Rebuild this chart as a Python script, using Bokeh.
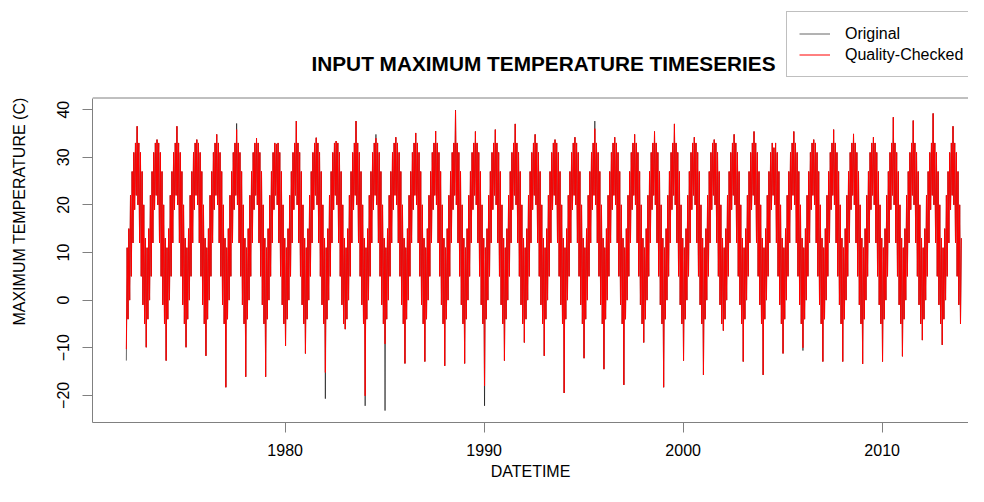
from bokeh.plotting import figure
from bokeh.models import Range1d, FixedTicker, LinearAxis, Legend, LegendItem, Label, Span
from bokeh.embed import file_html
from bokeh.resources import INLINE

# ---- data ----
years = list(range(1972, 2014))

# summer (July) highest daily maximum of each year, quality-checked series
qc_summer_peak = [36.5, 33.7, 36.5, 33.7, 34.8, 35.8, 34.0, 32.8, 37.6, 34.1,
                  33.4, 37.6, 34.0, 34.2, 35.1, 35.5, 39.8, 35.4, 35.8, 37.0,
                  34.8, 33.7, 34.2, 36.0, 34.2, 34.8, 35.4, 37.0, 34.2, 33.7,
                  34.8, 35.4, 32.0, 35.4, 33.7, 35.8, 34.9, 34.2, 38.4, 37.7,
                  39.2, 36.5]
# winter (January) lowest daily maximum of each year, quality-checked series
qc_winter_low = [-10.3, -9.9, -12.7, -9.9, -11.7, -18.3, -16.1, -16.1, -9.6, -11.2,
                 -15.2, -6.1, -20.1, -9.2, -13.3, -12.9, -13.8, -13.3, -18.0, -12.7,
                 -8.9, -11.7, -19.5, -12.2, -14.5, -17.8, -8.9, -18.3, -12.7, -15.7,
                 -6.4, -12.9, -15.7, -11.2, -10.0, -12.9, -12.9, -13.4, -12.9, -11.8,
                 -8.4, -9.4]
# original (unchecked) series: same, except the values removed by the checks
orig_summer_peak = [36.5, 33.7, 36.5, 33.7, 34.8, 37.1, 34.0, 32.8, 37.6, 34.1,
                    33.4, 37.6, 34.8, 34.2, 35.1, 35.5, 39.9, 35.4, 35.8, 37.0,
                    34.8, 33.7, 34.2, 37.6, 34.2, 34.8, 35.4, 37.0, 34.2, 33.7,
                    34.8, 35.4, 32.0, 35.4, 33.7, 35.8, 34.9, 34.2, 38.4, 37.7,
                    39.2, 36.5]
orig_winter_low = [-12.7, -9.9, -12.7, -9.9, -11.7, -18.3, -16.1, -16.1, -9.6, -11.2,
                   -20.7, -6.1, -22.2, -23.2, -13.3, -12.9, -13.8, -13.3, -22.2, -12.7,
                   -8.9, -11.7, -19.5, -12.2, -14.5, -17.8, -8.9, -18.3, -12.7, -15.7,
                   -6.4, -12.9, -15.7, -11.2, -10.6, -12.9, -12.9, -13.4, -12.9, -11.8,
                   -8.4, -9.4]
# typical monthly band of daily maxima (Jan..Dec): lower and upper edge
month_band_low = [-7, -4, 0, 5, 12, 19, 22, 20, 12, 5, -1, -5]
month_band_high = [11, 15, 22, 27, 31, 33, 34, 33, 31, 27, 20, 13]

y_ticks = [-20, -10, 0, 10, 20, 30, 40]
x_ticks = [1980, 1990, 2000, 2010]

# axis limits (R style: data range plus 4 %)
Y_LO, Y_HI = -25.70, 42.44
X_LO = 1970.32


def build(peaks, lows):
    t, v = [], []
    for i, yr in enumerate(years):
        for m in range(12):
            lo = lows[i] if m == 0 else month_band_low[m]
            hi = peaks[i] if m == 6 else month_band_high[m]
            t += [yr + (m + 0.25) / 12.0, yr + (m + 0.75) / 12.0]
            v += [lo, hi]
    return t, v


t_orig, v_orig = build(orig_summer_peak, orig_winter_low)
t_qc, v_qc = build(qc_summer_peak, qc_winter_low)

FONT = "Liberation Sans"
GRAY = "#808080"

W, H = 968, 486
LEFT, BOTTOM = 92, 64
PX_PER_YEAR = 19.9
PX_PER_DEG = 4.762
frame_h = H - BOTTOM
box_top_px = 97.5
y_top = Y_HI + box_top_px / PX_PER_DEG
x_hi = X_LO + (W - LEFT) / PX_PER_YEAR

p = figure(width=W, height=H, output_backend="svg", toolbar_location=None,
           x_range=Range1d(X_LO, x_hi), y_range=Range1d(Y_LO, y_top),
           min_border_left=LEFT, min_border_right=0, min_border_top=0,
           min_border_bottom=BOTTOM, x_axis_location=None, y_axis_location=None)
p.outline_line_color = None
p.xgrid.visible = False
p.ygrid.visible = False
p.background_fill_color = "white"
p.border_fill_color = "white"

r_orig = p.line(t_orig, v_orig, line_color="black", line_alpha=0.6, line_width=1)
r_qc = p.line(t_qc, v_qc, line_color="red", line_alpha=1.0, line_width=1)

# axes (box: left + bottom axis lines, top line as a span)
xa = LinearAxis(ticker=FixedTicker(ticks=x_ticks), axis_label="DATETIME")
ya = LinearAxis(ticker=FixedTicker(ticks=y_ticks), axis_label="MAXIMUM TEMPERATURE (C)",
                bounds=(Y_LO, Y_HI))
for ax in (xa, ya):
    ax.axis_line_color = GRAY
    ax.major_tick_line_color = GRAY
    ax.minor_tick_line_color = None
    ax.major_tick_in = 0
    ax.major_tick_out = 10
    ax.major_label_text_font = FONT
    ax.major_label_text_font_size = "16px"
    ax.major_label_text_color = "black"
    ax.axis_label_text_font = FONT
    ax.axis_label_text_font_size = "16px"
    ax.axis_label_text_font_style = "normal"
    ax.axis_label_text_color = "black"
xa.major_label_standoff = 11
xa.axis_label_standoff = 4
ya.major_label_standoff = 13
ya.major_label_orientation = "vertical"
ya.axis_label_standoff = 27
p.add_layout(xa, "below")
p.add_layout(ya, "left")
p.add_layout(Span(location=Y_HI, dimension="width", line_color=GRAY, line_width=1))

# title, centred over the R plot region
title_x = X_LO + (543 - LEFT) / PX_PER_YEAR
title_y = Y_HI + (box_top_px - 63) / PX_PER_DEG
p.add_layout(Label(x=title_x, y=title_y, text="INPUT MAXIMUM TEMPERATURE TIMESERIES",
                   text_align="center", text_baseline="alphabetic",
                   text_font=FONT, text_font_size="20.8px", text_font_style="bold",
                   text_color="black"))

legend = Legend(items=[LegendItem(label="Original", renderers=[r_orig]),
                       LegendItem(label="Quality-Checked", renderers=[r_qc])],
                location=(694, frame_h - 77), orientation="vertical",
                label_text_font=FONT, label_text_font_size="16px",
                label_text_color="black",
                glyph_width=31, glyph_height=19, label_height=19, spacing=2,
                label_standoff=15, padding=12, margin=0,
                border_line_color=GRAY, border_line_width=1,
                background_fill_color="white", background_fill_alpha=1.0)
p.add_layout(legend, "center")

open("out.html", "w").write(file_html(p, INLINE))
